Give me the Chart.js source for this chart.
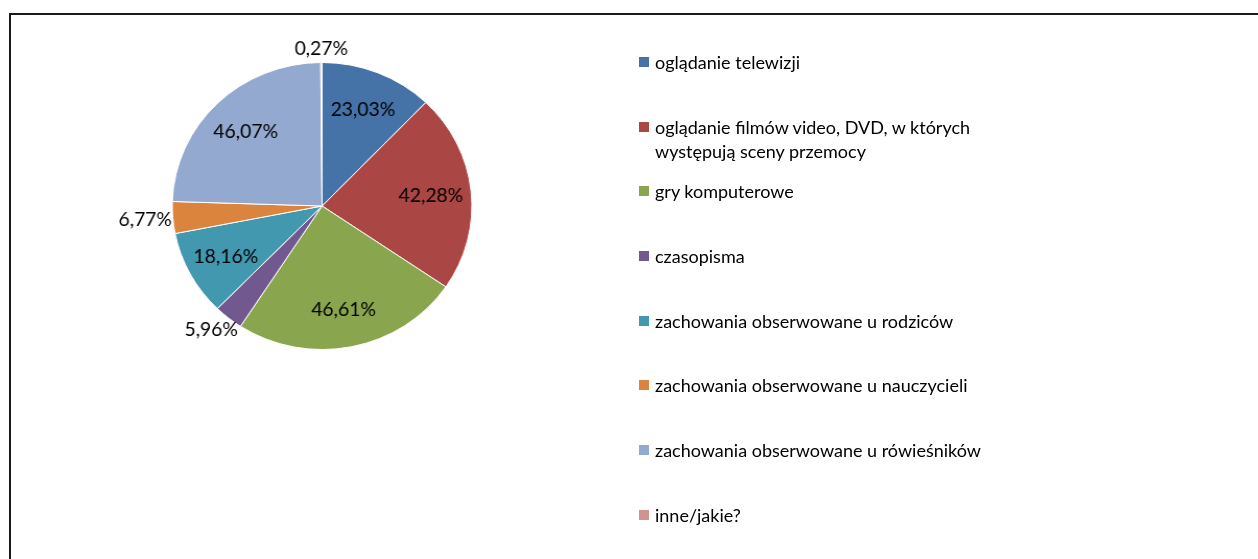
<!DOCTYPE html>
<html>
<head>
<meta charset="utf-8">
<script src="https://cdn.jsdelivr.net/npm/chart.js@4/dist/chart.umd.min.js"></script>
<style>
    html, body { margin: 0; padding: 0; background: #fff; }
    body { width: 1258px; height: 559px; position: relative; overflow: hidden; font-family: Lato, 'Open Sans', sans-serif; }
    .frame { position: absolute; left: 9px; top: 13px; width: 1400px; height: 700px; border: 2px solid #1a1a1a; box-sizing: border-box; }
    /* the original pie is a little wider than tall, so stretch the canvas */
    .pie-wrap { position: absolute; left: 0; top: 0; width: 617px; height: 412px; transform: scaleX(1.044); transform-origin: 0 0; }
    .legend { position: absolute; left: 639px; top: 50px; margin: 0; padding: 0; list-style: none; }
    .legend li { position: relative; height: 64.7px; padding-left: 16px; }
    .legend .box { position: absolute; left: 0; top: 7px; width: 10px; height: 10px; }
    .legend .txt { display: block; width: 340px; font-size: 18px; line-height: 24px; color: #000; }
</style>
</head>
<body>
<div class="frame"></div>
<div class="pie-wrap"><canvas id="pieChart"></canvas></div>
<ul class="legend" id="legend"></ul>

<script>
// -------------------------------
//  DATA
// -------------------------------
const categories = [
    'oglądanie telewizji',
    'oglądanie filmów video, DVD, w których występują sceny przemocy',
    'gry komputerowe',
    'czasopisma',
    'zachowania obserwowane u rodziców',
    'zachowania obserwowane u nauczycieli',
    'zachowania obserwowane u rówieśników',
    'inne/jakie?'
];
const values = [23.03, 42.28, 46.61, 5.96, 18.16, 6.77, 46.07, 0.27];
const valueLabels = ['23,03%', '42,28%', '46,61%', '5,96%', '18,16%', '6,77%', '46,07%', '0,27%'];

const COLORS = ['#4572A7', '#AA4643', '#89A54E', '#71588F', '#4198AF', '#DB843D', '#93A9CF', '#D19392'];

// -------------------------------
//  LEGEND (html)
// -------------------------------
const legendEl = document.getElementById('legend');
categories.forEach((name, i) => {
    const li = document.createElement('li');
    li.innerHTML = `<span class="box" style="background:${COLORS[i]}"></span><span class="txt">${name}</span>`;
    legendEl.appendChild(li);
});

// -------------------------------
//  SLICE LABELS PLUGIN
// -------------------------------
const sliceLabels = {
    id: 'sliceLabels',
    afterDatasetsDraw(chart) {
        const ctx = chart.ctx;
        const arcs = chart.getDatasetMeta(0).data;
        ctx.save();
        ctx.font = "18.5px Lato, 'Open Sans', sans-serif";
        ctx.fillStyle = '#000';
        ctx.textAlign = 'center';
        ctx.textBaseline = 'middle';
        arcs.forEach((arc, i) => {
            const p = arc.getProps(['x', 'y', 'startAngle', 'endAngle', 'outerRadius'], true);
            const mid = (p.startAngle + p.endAngle) / 2;
            const dx = Math.cos(mid), dy = Math.sin(mid);
            const txt = valueLabels[i];
            let x, y;
            if (p.endAngle - p.startAngle > 0.5) {
                x = p.x + dx * p.outerRadius * 0.73;
                y = p.y + dy * p.outerRadius * 0.73;
            } else {
                // small slice: label just outside the edge
                const w = ctx.measureText(txt).width;
                const r = p.outerRadius + 6;
                x = p.x + dx * r + dx * w * 0.4;
                y = p.y + dy * r + dy * 8;
            }
            ctx.fillText(txt, x, y + 1);
        });
        ctx.restore();
    }
};

// -------------------------------
//  PIE
// -------------------------------
new Chart(document.getElementById('pieChart'), {
    type: 'pie',
    data: {
        labels: categories,
        datasets: [{
            data: values,
            backgroundColor: COLORS,
            borderColor: '#ffffff',
            borderWidth: 1
        }]
    },
    options: {
        responsive: true,
        maintainAspectRatio: false,
        animation: false,
        layout: { padding: { top: 62, bottom: 62, left: 20, right: 20 } },
        plugins: {
            legend: { display: false },
            tooltip: { enabled: false }
        }
    },
    plugins: [sliceLabels]
});
</script>
</body>
</html>
